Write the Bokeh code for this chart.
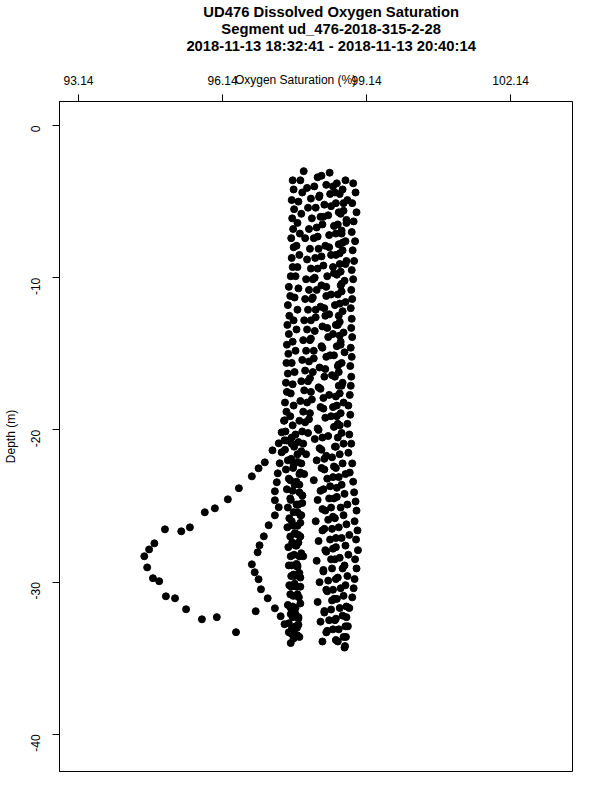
import math
from bokeh.plotting import figure
from bokeh.layouts import column
from bokeh.models import Range1d, FixedTicker, LinearAxis
from bokeh.core.properties import value
from bokeh.embed import file_html
from bokeh.resources import INLINE

title_lines = ["UD476 Dissolved Oxygen Saturation",
               "Segment ud_476-2018-315-2-28",
               "2018-11-13 18:32:41 - 2018-11-13 20:40:14"]
x_label = "Oxygen Saturation (%)"
y_label = "Depth (m)"
x_ticks = [93.14, 96.14, 99.14, 102.14]
x_tick_labels = ["93.14", "96.14", "99.14", "102.14"]
y_ticks = [0, -10, -20, -30, -40]
y_tick_labels = ["0", "-10", "-20", "-30", "-40"]

# right-hand profile
R_d = [-3.8,-4.4,-5.1,-5.7,-6.3,-7.0,-7.6,-8.2,-8.9,-9.5,-10.1,-10.8,-11.4,-12.0,-12.7,-13.3,-13.9,-14.6,-15.2,-15.8,-16.5,-17.1,-17.7,-18.4,-19.0,-19.6,-20.3,-20.9,-21.5,-22.2,-22.8,-23.4,-24.1,-24.7,-25.3,-26.0,-26.6,-27.2,-27.9,-28.5,-29.1,-29.8,-30.4,-31.0,-31.7,-32.3,-32.9,-33.6,-34.2]
R_o = [98.86,98.91,98.84,98.93,98.87,98.83,98.90,98.85,98.88,98.83,98.86,98.82,98.84,98.81,98.83,98.82,98.84,98.81,98.83,98.80,98.82,98.81,98.79,98.76,98.80,98.74,98.78,98.82,98.76,98.84,98.79,98.86,98.88,98.91,98.93,98.89,98.95,98.92,98.96,98.90,98.93,98.89,98.87,98.84,98.78,98.72,98.75,98.71,98.69]
# left-hand profile
L_d = [-3.6,-4.2,-4.9,-5.5,-6.1,-6.8,-7.4,-8.0,-8.7,-9.3,-9.9,-10.6,-11.2,-11.8,-12.5,-13.1,-13.7,-14.4,-15.0,-15.6,-16.3,-16.9,-17.5,-18.2,-18.8,-19.4,-20.1,-20.7,-21.3,-22.0,-22.6,-23.2,-23.9,-24.5,-25.1,-25.8,-26.4,-27.0,-27.7,-28.3,-28.9,-29.6,-30.2,-30.8,-31.5,-32.1,-32.7,-33.4,-34.0]
L_o = [97.60,97.62,97.58,97.63,97.59,97.61,97.57,97.62,97.58,97.60,97.56,97.52,97.55,97.50,97.53,97.49,97.52,97.48,97.51,97.47,97.50,97.46,97.48,97.44,97.47,97.42,97.45,97.48,97.44,97.50,97.46,97.52,97.48,97.55,97.50,97.53,97.49,97.55,97.51,97.56,97.52,97.57,97.53,97.55,97.50,97.56,97.52,97.58,97.56]
# middle profiles
M1_d = [-3.0,-3.6,-4.4,-5.0,-5.8,-6.4,-7.1,-7.9,-8.5,-9.3,-9.9,-10.7,-11.3,-12.1,-12.8,-13.4,-14.2,-14.8,-15.6,-16.2,-17.0,-17.6,-18.4,-19.1,-19.7,-20.5,-21.1,-21.9,-22.5,-23.3,-24.0,-24.6,-25.4,-26.0,-26.8,-27.4,-28.2,-28.9,-29.5,-30.3,-30.9,-31.7,-32.3,-33.1,-33.7]
M1_o = [97.83,97.76,97.80,97.72,97.78,97.70,97.75,97.68,97.74,97.70,97.66,97.72,97.64,97.70,97.62,97.68,97.60,97.66,97.58,97.64,97.60,97.56,97.62,97.55,97.60,97.58,97.63,97.57,97.61,97.55,97.60,97.56,97.62,97.58,97.64,97.59,97.63,97.58,97.62,97.57,97.61,97.56,97.60,97.58,97.62]
M2_d = [-3.4,-4.0,-4.7,-5.4,-6.0,-6.7,-7.4,-8.1,-8.7,-9.4,-10.1,-10.8,-11.4,-12.1,-12.8,-13.5,-14.1,-14.8,-15.5,-16.2,-16.8,-17.5,-18.2,-18.9,-19.5,-20.2,-20.9,-21.6,-22.2,-22.9,-23.6,-24.3,-24.9,-25.6,-26.3,-27.0,-27.6,-28.3,-29.0,-29.7,-30.3,-31.0,-31.7,-32.4,-33.0,-33.6]
M2_o = [98.12,98.05,98.15,98.08,98.18,98.10,98.04,98.14,98.07,98.12,98.02,98.10,98.00,98.08,97.98,98.06,97.96,98.04,97.94,98.02,97.92,97.98,97.90,97.96,97.86,97.92,97.82,97.88,97.78,97.84,97.74,97.80,97.72,97.78,97.70,97.76,97.68,97.74,97.70,97.76,97.68,97.73,97.66,97.72,97.69,97.74]
M3_d = [-3.9,-4.5,-5.2,-5.9,-6.5,-7.2,-7.9,-8.5,-9.2,-9.9,-10.5,-11.2,-11.9,-12.5,-13.2,-13.9,-14.5,-15.2,-15.9,-16.5,-17.2,-17.9,-18.5,-19.2,-19.9,-20.5,-21.2,-21.9,-22.5,-23.2,-23.9,-24.5,-25.2,-25.9,-26.5,-27.2,-27.9,-28.5,-29.2,-29.9,-30.5,-31.2,-31.9,-32.5,-33.2]
M3_o = [98.30,98.38,98.26,98.34,98.22,98.36,98.28,98.40,98.24,98.32,98.20,98.30,98.18,98.28,98.22,98.34,98.20,98.30,98.16,98.26,98.14,98.24,98.18,98.28,98.12,98.22,98.16,98.26,98.20,98.32,98.24,98.36,98.22,98.34,98.26,98.38,98.28,98.40,98.24,98.34,98.30,98.42,98.26,98.36,98.32]
M4_d = [-3.1,-3.8,-4.5,-5.1,-5.8,-6.5,-7.1,-7.8,-8.5,-9.1,-9.8,-10.5,-11.1,-11.8,-12.5,-13.1,-13.8,-14.5,-15.1,-15.8,-16.5,-17.1,-17.8,-18.5,-19.1,-19.8,-20.5,-21.1,-21.8,-22.5,-23.1,-23.8,-24.5,-25.1,-25.8,-26.5,-27.1,-27.8,-28.5,-29.1,-29.8,-30.5,-31.1,-31.8,-32.5,-33.1,-33.8]
M4_o = [98.37,98.52,98.58,98.50,98.60,98.54,98.62,98.56,98.50,98.58,98.52,98.60,98.54,98.48,98.56,98.50,98.58,98.52,98.46,98.54,98.48,98.56,98.50,98.44,98.52,98.46,98.54,98.48,98.42,98.50,98.44,98.52,98.46,98.40,98.48,98.42,98.50,98.44,98.48,98.42,98.50,98.44,98.46,98.40,98.48,98.44,98.50]
M5_d = [-3.6,-4.2,-4.9,-5.6,-6.2,-6.9,-7.6,-8.2,-8.9,-9.6,-10.2,-10.9,-11.6,-12.2,-12.9,-13.6,-14.2,-14.9,-15.6,-16.2,-16.9,-17.6,-18.2,-18.9,-19.6,-20.2,-20.9,-21.6,-22.2,-22.9,-23.6,-24.2,-24.9,-25.6,-26.2,-26.9,-27.6,-28.2,-28.9,-29.6,-30.2,-30.9,-31.6,-32.2,-32.9,-33.6,-34.3]
M5_o = [98.70,98.64,98.74,98.66,98.72,98.62,98.70,98.64,98.72,98.60,98.68,98.62,98.70,98.64,98.58,98.66,98.60,98.68,98.62,98.56,98.64,98.58,98.66,98.60,98.54,98.62,98.66,98.58,98.64,98.70,98.62,98.68,98.74,98.66,98.72,98.78,98.70,98.76,98.68,98.74,98.70,98.66,98.72,98.64,98.70,98.66,98.68]
M6_d = [-4.1,-4.8,-5.4,-6.1,-6.8,-7.4,-8.1,-8.8,-9.4,-10.1,-10.8,-11.4,-12.1,-12.8,-13.4,-14.1,-14.8,-15.4,-16.1,-16.8,-17.4,-18.1,-18.8,-19.4,-20.1,-20.8,-21.4,-22.1,-22.8,-23.4,-24.1,-24.8,-25.4,-26.1,-26.8,-27.4,-28.1,-28.8,-29.4,-30.1,-30.8,-31.4,-32.1,-32.8,-33.4]
M6_o = [97.90,97.98,97.92,98.00,97.94,97.86,97.96,97.90,97.98,97.88,97.94,97.86,97.92,97.84,97.90,97.82,97.88,97.80,97.86,97.78,97.84,97.76,97.82,97.74,97.80,97.72,97.78,97.70,97.76,97.68,97.74,97.80,97.70,97.76,97.66,97.72,97.78,97.68,97.74,97.64,97.70,97.76,97.66,97.72,97.64]
M7_d = [-3.3,-4.0,-4.6,-5.3,-6.0,-6.6,-7.3,-8.0,-8.6,-9.3,-10.0,-10.6,-11.3,-12.0,-12.6,-13.3,-14.0,-14.6,-15.3,-16.0,-16.6,-17.3,-18.0,-18.6,-19.3,-20.0,-20.6,-21.3,-22.0,-22.6,-23.3,-24.0,-24.6,-25.3,-26.0,-26.6,-27.3,-28.0,-28.6,-29.3,-30.0,-30.6,-31.3,-32.0,-32.6,-33.3,-33.9]
M7_o = [98.20,98.44,98.16,98.40,98.24,98.46,98.12,98.36,98.20,98.44,98.06,98.30,98.02,98.26,98.08,98.32,97.98,98.22,98.04,98.28,97.96,98.18,98.00,98.24,97.94,98.14,98.06,98.20,98.10,98.26,98.04,98.18,98.12,98.28,98.08,98.22,98.14,98.30,98.10,98.24,98.16,98.32,98.12,98.26,98.18,98.30,98.22]
M8_d = [-4.4,-5.1,-5.7,-6.4,-7.1,-7.7,-8.4,-9.1,-9.7,-10.4,-11.1,-11.7,-12.4,-13.1,-13.7,-14.4,-15.1,-15.7,-16.4,-17.1,-17.7,-18.4,-19.1,-19.7,-20.4,-21.1,-21.7,-22.4,-23.1,-23.7,-24.4,-25.1,-25.7,-26.4,-27.1,-27.7,-28.4,-29.1,-29.7,-30.4,-31.1,-31.7,-32.4,-33.1,-33.9]
M8_o = [98.48,98.66,98.56,98.72,98.50,98.64,98.58,98.70,98.46,98.62,98.40,98.58,98.36,98.54,98.44,98.60,98.38,98.56,98.42,98.62,98.36,98.52,98.40,98.58,98.34,98.50,98.30,98.46,98.56,98.38,98.52,98.60,98.44,98.56,98.62,98.50,98.58,98.64,98.54,98.60,98.52,98.58,98.50,98.56,98.54]
M9_d = [-20.3,-20.9,-21.6,-22.3,-22.9,-23.6,-24.3,-24.9,-25.6,-26.3,-26.9,-27.6,-28.3,-28.9,-29.6,-30.3,-30.9,-31.6,-32.3,-32.9,-33.5]
M9_o = [97.66,97.58,97.70,97.62,97.74,97.64,97.80,97.68,97.76,97.62,97.72,97.66,97.82,97.70,97.64,97.76,97.68,97.60,97.72,97.66,97.70]
# inner low-oxygen excursion
I_d = [-20.68,-21.47,-22.19,-22.85,-23.44,-24.03,-24.62,-25.08,-25.61,-26.26,-26.99,-27.58,-28.04,-28.83,-29.35,-29.81,-30.47,-31.06,-31.72,-32.24,-32.76,-33.29,-31.91]
I_o = [97.43,97.37,97.33,97.29,97.27,97.23,97.23,97.31,97.23,97.10,97.00,96.91,96.87,96.75,96.81,96.89,96.94,97.08,97.23,97.35,97.43,97.52,96.83]
# outer low-oxygen excursion
O_d = [-19.37,-20.16,-20.88,-21.34,-22.13,-22.52,-23.05,-23.83,-24.56,-25.15,-25.41,-26.40,-26.66,-26.53,-27.45,-27.85,-28.30,-29.03,-29.74,-29.94,-30.93,-31.06,-31.78,-32.44,-32.30,-33.29]
O_o = [97.43,97.37,97.31,97.18,97.02,96.89,96.75,96.48,96.25,95.98,95.77,95.46,95.28,94.94,94.72,94.61,94.51,94.57,94.69,94.82,94.96,95.15,95.38,95.71,96.02,96.42]

casts = [(R_d, R_o), (L_d, L_o), (M1_d, M1_o), (M2_d, M2_o), (M3_d, M3_o),
         (M4_d, M4_o), (M5_d, M5_o), (M6_d, M6_o), (M7_d, M7_o), (M8_d, M8_o),
         (M9_d, M9_o), (I_d, I_o), (O_d, O_o)]
depth, oxy = [], []
for d_list, o_list in casts:
    for d, o in zip(d_list, o_list):
        depth.append(d)
        oxy.append(o)

FONT = "Liberation Sans"
W = 592
HEAD_H = 62
MAIN_H = 730

# ---- header (three centred title lines) ----
head = figure(width=W, height=HEAD_H, output_backend="svg", toolbar_location=None,
              x_range=Range1d(0, W), y_range=Range1d(HEAD_H, 0),
              x_axis_location=None, y_axis_location=None,
              min_border_left=0, min_border_right=0, min_border_top=0, min_border_bottom=0)
head.outline_line_color = None
head.grid.visible = False
head.background_fill_color = "white"
head.border_fill_color = "white"
head.text(x=[313.5, 313.5, 313.5], y=[11, 28, 45], text=title_lines,
          text_align="center", text_baseline="middle", text_color="black",
          text_font=value(FONT), text_font_size=value("14.8px"), text_font_style="bold")

# ---- main profile plot ----
p = figure(width=W, height=MAIN_H, output_backend="svg", toolbar_location=None,
           x_range=Range1d(92.744, 103.428), y_range=Range1d(-42.44, 1.577),
           x_axis_location="above", y_axis_location="left",
           min_border_left=57, min_border_right=20, min_border_top=101 - HEAD_H,
           min_border_bottom=21)
p.background_fill_color = "white"
p.border_fill_color = "white"
p.outline_line_color = "black"
p.outline_line_width = 1
p.grid.visible = False

p.scatter(oxy, depth, size=7, marker="circle", color="black")

xa = p.xaxis[0]
xa.ticker = FixedTicker(ticks=x_ticks)
xa.major_label_overrides = {t: s for t, s in zip(x_ticks, x_tick_labels)}
ya = p.yaxis[0]
ya.ticker = FixedTicker(ticks=y_ticks)
ya.major_label_overrides = {t: s for t, s in zip(y_ticks, y_tick_labels)}
ya.major_label_orientation = math.pi / 2
for ax in (xa, ya):
    ax.minor_tick_line_color = None
    ax.major_tick_in = 0
    ax.major_tick_out = 7
    ax.major_tick_line_color = "black"
    ax.axis_line_color = "black"
    ax.major_label_text_font = FONT
    ax.major_label_text_font_size = "12px"
    ax.major_label_text_color = "black"
    ax.axis_label_text_font = FONT
    ax.axis_label_text_font_size = "12px"
    ax.axis_label_text_font_style = "normal"
    ax.axis_label_text_color = "black"
xa.major_label_standoff = 10
ya.major_label_standoff = 17
ya.axis_label = y_label
ya.axis_label_standoff = 6

# x-axis title sits on the tick-label line, left of centre, as in the original
XLAB_AT = 97.661
xlab_axis = LinearAxis(ticker=FixedTicker(ticks=[XLAB_AT]),
                       major_label_overrides={XLAB_AT: x_label},
                       major_tick_out=0, major_tick_in=0, minor_tick_out=0, minor_tick_in=0,
                       major_tick_line_color=None, minor_tick_line_color=None,
                       axis_line_color=None, major_label_standoff=-14,
                       major_label_text_font=FONT, major_label_text_font_size="12px",
                       major_label_text_color="black")
p.add_layout(xlab_axis, "above")

layout = column(head, p, spacing=0)
open("out.html", "w").write(file_html(layout, INLINE))
